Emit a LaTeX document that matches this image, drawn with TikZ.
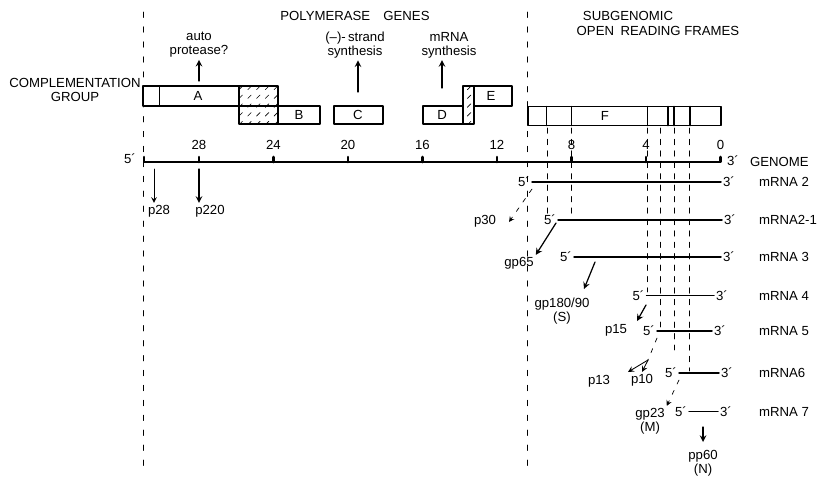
\documentclass[tikz,border=0pt]{standalone}
\usepackage{fontspec}
\setmainfont{Liberation Sans}
\usetikzlibrary{patterns.meta}
\tikzdeclarepattern{
  name=dashhatch,
  type=uncolored,
  bounding box={(-0.1pt,-0.1pt) and (5.1pt,5.1pt)},
  tile size={(5pt,5pt)},
  code={\draw[line width=0.35pt] (1pt,1pt) -- (3pt,3pt);}
}
\begin{document}
\begin{tikzpicture}[x=0.02cm,y=-0.02cm,>=stealth,line join=round,line cap=round,
  every node/.style={font=\fontsize{7.5}{8}\selectfont,inner sep=1pt},
  orf/.style={line width=0.85pt},
  hatched/.style={draw,line width=0.85pt,pattern=dashhatch},
  divide/.style={line width=0.55pt,dash pattern=on 3pt off 5.5pt},
  orfline/.style={line width=0.5pt,dash pattern=on 3pt off 3.5pt},
  axis/.style={line width=1.5pt},
  rna/.style={line width=0.8pt},
  prod/.style={->,line width=0.7pt},
  faint/.style={->,line width=0.4pt,dash pattern=on 2.5pt off 4pt},
  declare function={kb(\k)=720.5-18.63*\k;}]
\useasboundingbox (0,0) rectangle (817,478);

% section dividers and headings
\draw[divide] (143,12) -- (143,470);
\draw[divide] (527,12) -- (527,470);
\node (pol) at (355,16) {POLYMERASE\quad GENES};
\node (subg) at (628,16) {SUBGENOMIC};
\node (orfs) at (658,31) {OPEN\enspace READING FRAMES};
\node[align=center] (compl) at (75,90) {COMPLEMENTATION\\GROUP};

% complementation groups
\draw[orf] (143,86) rectangle (239,106) (159.5,86) -- (159.5,106);
\draw[hatched] (239,86) rectangle (278,106);
\draw[hatched] (239,106) rectangle (278,124);
\draw[orf] (278,106) rectangle (320,124);
\draw[orf] (334,106) rectangle (383,124);
\draw[orf] (423,106) rectangle (463,124);
\draw[hatched] (463,86) rectangle (474,124);
\draw[orf] (474,86) rectangle (512,106);
\node (A) at (198,96) {A};
\node (B) at (299,115) {B};
\node (C) at (358,115) {C};
\node (D) at (442,115) {D};
\node (E) at (491,96) {E};

% functions
\node[align=center] (auto) at (199,45) {auto\\protease?};
\node[align=center] (strand) at (355,45) {(–)-\,strand\\synthesis};
\node[align=center] (msyn) at (449,45) {mRNA\\synthesis};
\coordinate (Atop) at (199,81);
\coordinate (Ctop) at (358,92);
\coordinate (Dtop) at (442,88);
\draw[prod] (Atop) -- (Atop |- auto.south);
\draw[prod] (Ctop) -- (Ctop |- strand.south);
\draw[prod] (Dtop) -- (Dtop |- msyn.south);

% subgenomic open reading frames
\draw[orf] (528,106.5) rectangle (721,125.5);
\foreach \x in {546.5,571.5,647.5,668,674,690}
  \draw[orf] (\x,106.5) -- (\x,125.5);
\node (F) at (605,116) {F};
\foreach \x/\y in {547/215,571.5/217,647/292,660.5/327,674/350,689.5/371}
  \draw[orfline] (\x,128) -- (\x,\y);

% genome scale
\draw[axis] (144,157) -- (144,162) -- (720.5,162) -- (720.5,157);
\foreach \k in {28,24,...,4}
  \draw[axis] ({kb(\k)},162) -- ++(0,-5);
\foreach \k in {28,24,...,0}
  \node (n\k) at ({kb(\k)},145) {\k};
\node (g5) at (130,159) {5´};
\node (g3) at (733,161) {3´};
\node[anchor=west] (genome) at (748,162) {GENOME};

% genomic products
\node (p28) at (159,211) {p28};
\node (p220) at (210,211) {p220};
\coordinate (s28) at (154,169);
\coordinate (s220) at (199,169);
\draw[->,line width=0.45pt] (s28) -- (s28 |- p28.north);
\draw[prod] (s220) -- (s220 |- p220.north);

% subgenomic mRNAs
\foreach \n/\y/\a/\b/\lab in {2/182/524/729/{mRNA 2},21/220/550/730/{mRNA2-1},
    3/257/566/729/{mRNA 3},4/295.5/638.5/722/{mRNA 4},5/331/649/720/{mRNA 5},
    6/373/671/727/{mRNA6},7/411.5/681/726/{mRNA 7}}{
  \node (f\n) at (\a,\y) {5´};
  \node (t\n) at (\b,\y) {3´};
  \draw[rna] (f\n) -- (t\n);
  \node[anchor=west] (m\n) at (757,\y) {\lab};
}

% translation products
\node (p30) at (485,221) {p30};
\node (gp65) at (519,263) {gp65};
\node[align=center] (gp180) at (562,311) {gp180/90\\(S)};
\node (p15) at (616,330) {p15};
\node (p13) at (599,381) {p13};
\node (p10) at (642,380) {p10};
\node[align=center] (gp23) at (650,421) {gp23\\(M)};
\node[align=center] (pp60) at (703,463) {pp60\\(N)};
\coordinate (t30) at (509,222);
\coordinate (s65) at (556,223);
\coordinate (s180) at (595,262);
\coordinate (t180) at (584,289);
\coordinate (s15) at (646,305);
\coordinate (t15) at (637,321);
\coordinate (br) at (648,360);
\coordinate (t13) at (628,372);
\coordinate (s60) at (703,427);
\coordinate (t60) at (703,442);
\draw[faint] (f2.south east) -- (t30);
\draw[prod] (s65) -- (gp65.north east);
\draw[prod] (s180) -- (t180);
\draw[prod] (s15) -- (t15);
\draw[line width=0.4pt,dash pattern=on 2.5pt off 4pt] (f5.south east) -- (br);
\draw[prod,line width=0.5pt] (br) -- (t13);
\draw[prod,line width=0.5pt] (br) -- (p10.north);
\draw[faint] (f6.south east) -- (gp23.north east);
\draw[prod] (s60) -- (t60);
\end{tikzpicture}
\end{document}
